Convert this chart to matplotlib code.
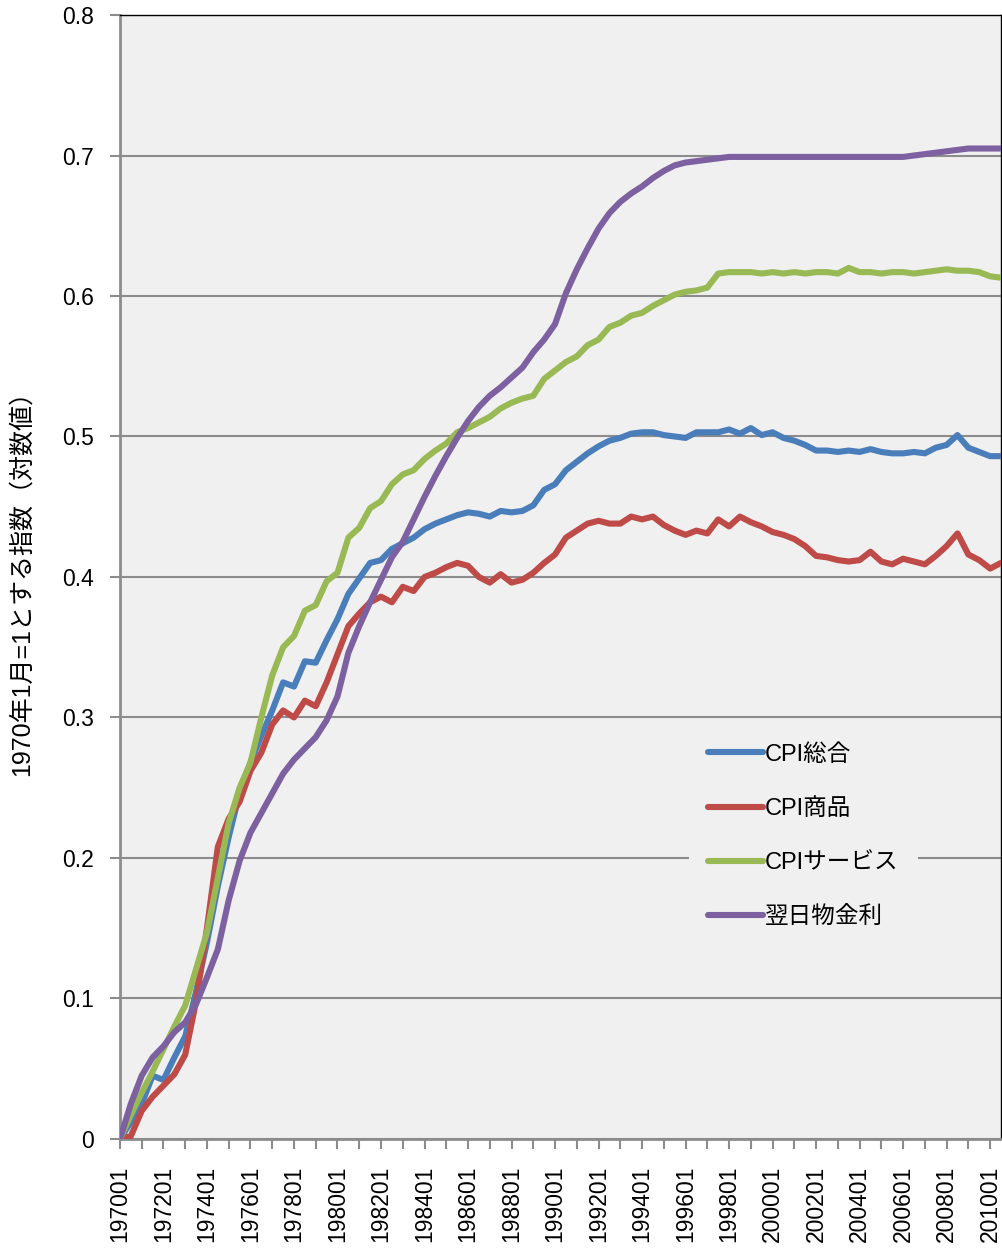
import matplotlib.pyplot as plt

# months since 1970-01, sampled every 6 months
months = list(range(0, 487, 6))

cpi_total = [0.000, 0.012, 0.025, 0.045, 0.042, 0.058, 0.073, 0.105, 0.140, 0.180,
             0.215, 0.246, 0.268, 0.287, 0.305, 0.325, 0.322, 0.340, 0.339, 0.355,
             0.370, 0.388, 0.399, 0.410, 0.412, 0.420, 0.424, 0.428, 0.434, 0.438,
             0.441, 0.444, 0.446, 0.445, 0.443, 0.447, 0.446, 0.447, 0.451, 0.462,
             0.466, 0.476, 0.482, 0.488, 0.493, 0.497, 0.499, 0.502, 0.503, 0.503,
             0.501, 0.500, 0.499, 0.503, 0.503, 0.503, 0.505, 0.502, 0.506, 0.501,
             0.503, 0.499, 0.497, 0.494, 0.490, 0.490, 0.489, 0.490, 0.489, 0.491,
             0.489, 0.488, 0.488, 0.489, 0.488, 0.492, 0.494, 0.501, 0.492, 0.489,
             0.486, 0.486]

cpi_goods = [0.000, 0.002, 0.020, 0.030, 0.038, 0.046, 0.060, 0.098, 0.150, 0.208,
             0.228, 0.240, 0.262, 0.275, 0.295, 0.305, 0.300, 0.312, 0.308, 0.325,
             0.345, 0.365, 0.374, 0.382, 0.386, 0.382, 0.393, 0.390, 0.400, 0.403,
             0.407, 0.410, 0.408, 0.400, 0.396, 0.402, 0.396, 0.398, 0.403, 0.410,
             0.416, 0.428, 0.433, 0.438, 0.440, 0.438, 0.438, 0.443, 0.441, 0.443,
             0.437, 0.433, 0.430, 0.433, 0.431, 0.441, 0.436, 0.443, 0.439, 0.436,
             0.432, 0.430, 0.427, 0.422, 0.415, 0.414, 0.412, 0.411, 0.412, 0.418,
             0.411, 0.409, 0.413, 0.411, 0.409, 0.415, 0.422, 0.431, 0.416, 0.412,
             0.406, 0.410]

cpi_services = [0.000, 0.017, 0.033, 0.048, 0.064, 0.080, 0.095, 0.121, 0.147, 0.186,
                0.225, 0.250, 0.268, 0.300, 0.330, 0.350, 0.358, 0.376, 0.380, 0.397,
                0.403, 0.428, 0.435, 0.449, 0.454, 0.466, 0.473, 0.476, 0.484, 0.490,
                0.495, 0.503, 0.506, 0.510, 0.514, 0.520, 0.524, 0.527, 0.529, 0.541,
                0.547, 0.553, 0.557, 0.565, 0.569, 0.578, 0.581, 0.586, 0.588, 0.593,
                0.597, 0.601, 0.603, 0.604, 0.606, 0.616, 0.617, 0.617, 0.617, 0.616,
                0.617, 0.616, 0.617, 0.616, 0.617, 0.617, 0.616, 0.620, 0.617, 0.617,
                0.616, 0.617, 0.617, 0.616, 0.617, 0.618, 0.619, 0.618, 0.618, 0.617,
                0.614, 0.613]

overnight_rate = [0.000, 0.025, 0.045, 0.058, 0.066, 0.076, 0.083, 0.096, 0.115, 0.135,
                  0.170, 0.198, 0.218, 0.232, 0.246, 0.260, 0.270, 0.278, 0.286, 0.298,
                  0.315, 0.346, 0.365, 0.382, 0.398, 0.414, 0.425, 0.441, 0.457, 0.472,
                  0.486, 0.499, 0.511, 0.521, 0.529, 0.535, 0.542, 0.549, 0.560, 0.569,
                  0.580, 0.602, 0.619, 0.634, 0.648, 0.659, 0.667, 0.673, 0.678, 0.684,
                  0.689, 0.693, 0.695, 0.696, 0.697, 0.698, 0.699, 0.699, 0.699, 0.699,
                  0.699, 0.699, 0.699, 0.699, 0.699, 0.699, 0.699, 0.699, 0.699, 0.699,
                  0.699, 0.699, 0.699, 0.700, 0.701, 0.702, 0.703, 0.704, 0.705, 0.705,
                  0.705, 0.705]

series_names = ["CPI総合", "CPI商品", "CPIサービス", "翌日物金利"]
colors = ["#4a7ebb", "#be4b48", "#98b954", "#7d60a0"]

tick_labels = ["197001", "197201", "197401", "197601", "197801", "198001", "198201",
               "198401", "198601", "198801", "199001", "199201", "199401", "199601",
               "199801", "200001", "200201", "200401", "200601", "200801", "201001"]
tick_pos = [24 * i for i in range(len(tick_labels))]
minor_pos = [24 * i + 12 for i in range(len(tick_labels) - 1)]

FONT = ["Liberation Sans", "Noto Sans CJK JP", "DejaVu Sans"]
plt.rcParams["font.family"] = FONT

fig = plt.figure(figsize=(10.03, 12.52), dpi=100)
ax = fig.add_axes([0.1196, 0.0903, 0.8784, 0.8977])
ax.set_facecolor("#f0f0f0")

for vals, name, c in zip([cpi_total, cpi_goods, cpi_services, overnight_rate],
                         series_names, colors):
    ax.plot(months, vals, color=c, lw=4.4, label=name, solid_joinstyle="round",
            solid_capstyle="round", zorder=3)

ax.set_xlim(0, 486)
ax.set_ylim(0, 0.8)
ax.set_yticks([0, 0.1, 0.2, 0.3, 0.4, 0.5, 0.6, 0.7, 0.8])
ax.set_yticklabels(["0", "0.1", "0.2", "0.3", "0.4", "0.5", "0.6", "0.7", "0.8"])
ax.yaxis.grid(True, color="#8c8c8c", lw=1.5)
ax.set_axisbelow(True)

ax.set_xticks(tick_pos)
ax.set_xticklabels(tick_labels, rotation=90)
ax.set_xticks(minor_pos, minor=True)
ax.tick_params(axis="both", which="both", direction="out", length=7, width=1.5,
               color="#8c8c8c", labelsize=16.5)
ax.tick_params(axis="x", pad=12)
ax.tick_params(axis="y", pad=12)

for s in ["left", "bottom"]:
    ax.spines[s].set_color("#8c8c8c")
    ax.spines[s].set_linewidth(2)
for s in ["top", "right"]:
    ax.spines[s].set_color("black")
    ax.spines[s].set_linewidth(1)

ax.set_ylabel("1970年1月=1とする指数（対数値）", fontsize=18, labelpad=20)

leg = ax.legend(loc="upper left", bbox_to_anchor=(0.633, 0.379), fontsize=17,
                frameon=True, facecolor="#f0f0f0", edgecolor="none", framealpha=1,
                handlelength=2.3, handletextpad=0.1, labelspacing=1.36,
                borderpad=0.8, fancybox=False)
leg.set_zorder(5)

fig.savefig("out.png", dpi=100)
